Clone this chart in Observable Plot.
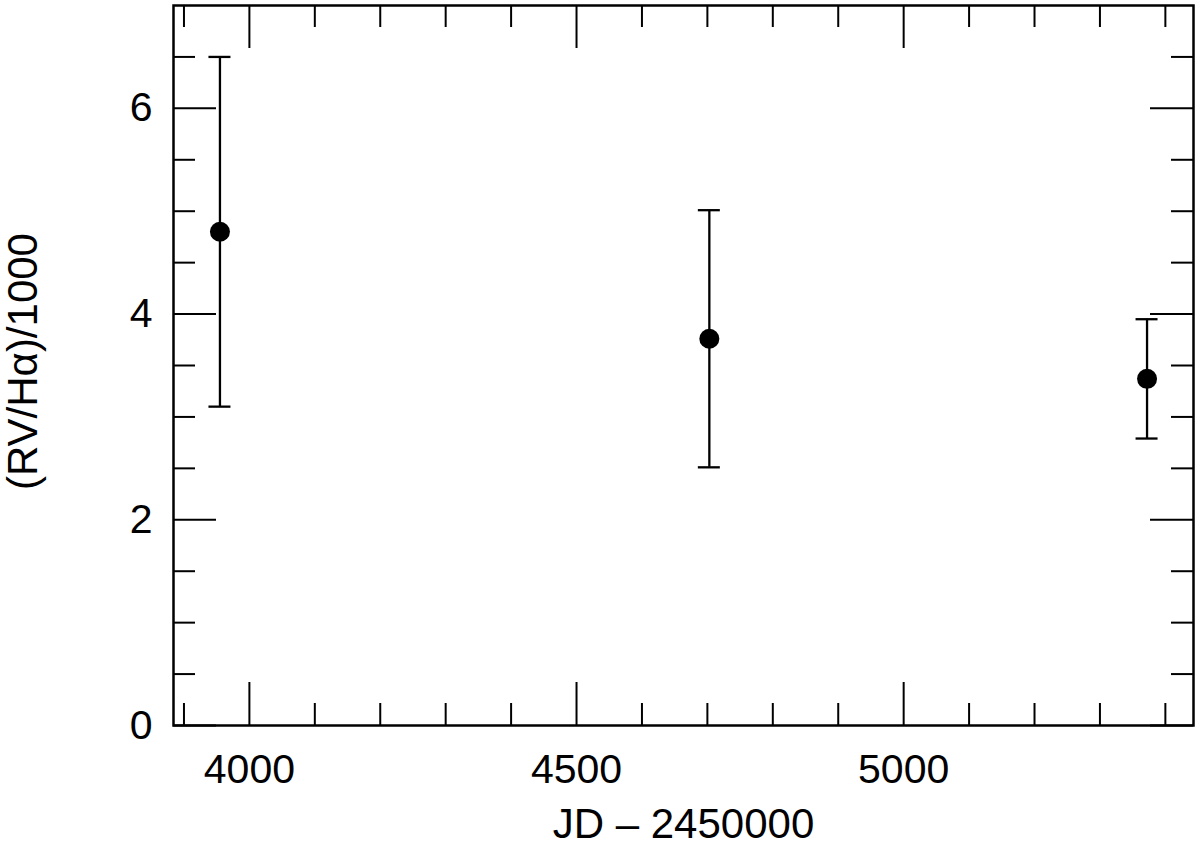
<!DOCTYPE html>
<html><head><meta charset="utf-8">
<script src="https://cdn.jsdelivr.net/npm/d3@7"></script>
<script src="https://cdn.jsdelivr.net/npm/@observablehq/plot@0.6"></script>
<style>body{margin:0;background:#fff} svg{display:block}</style>
</head><body><div id="chart"></div>
<script>
// Data
const jd = [3955, 4703, 5372];
const ratio = [4.80, 3.76, 3.37];
const errLow = [3.10, 2.51, 2.79];
const errHigh = [6.50, 5.01, 3.95];

// Axis ticks
const xMajor = [4000, 4500, 5000];
const xMinor = [3900, 4100, 4200, 4300, 4400, 4600, 4700, 4800, 4900, 5100, 5200, 5300, 5400];
const yMajor = [0, 2, 4, 6];
const yMinor = [0.5, 1, 1.5, 2.5, 3, 3.5, 4.5, 5, 5.5, 6.5];
const xTitle = ["JD \u2013 2450000"];
const yTitle = ["(RV/H\u03B1)/1000"];

const data = jd.map((x, i) => ({x, y: ratio[i], lo: errLow[i], hi: errHigh[i]}));

const W = 1200, H = 846;
const mL = 173, mR = 7, mT = 5, mB = 121;
const iw = W - mL - mR, ih = H - mT - mB;
const MAJ = 43, MIN = 22;
const tickStyle = {stroke: "black", strokeWidth: 2};

const chart = Plot.plot({
  width: W, height: H,
  marginLeft: mL, marginRight: mR, marginTop: mT, marginBottom: mB,
  style: {fontFamily: "'Liberation Sans', Arial, Helvetica, sans-serif", fontSize: "41px", color: "black", background: "white"},
  x: {domain: [3884, 5443]},
  y: {domain: [0, 7]},
  marks: [
    // inward ticks: bottom & top
    Plot.tickX(xMajor, {x: d => d, insetTop: ih - MAJ, ...tickStyle}),
    Plot.tickX(xMajor, {x: d => d, insetBottom: ih - MAJ, ...tickStyle}),
    Plot.tickX(xMinor, {x: d => d, insetTop: ih - MIN, ...tickStyle}),
    Plot.tickX(xMinor, {x: d => d, insetBottom: ih - MIN, ...tickStyle}),
    // inward ticks: left & right
    Plot.tickY(yMajor, {y: d => d, insetRight: iw - MAJ, ...tickStyle}),
    Plot.tickY(yMajor, {y: d => d, insetLeft: iw - MAJ, ...tickStyle}),
    Plot.tickY(yMinor, {y: d => d, insetRight: iw - MIN, ...tickStyle}),
    Plot.tickY(yMinor, {y: d => d, insetLeft: iw - MIN, ...tickStyle}),
    // tick labels
    Plot.axisX(xMajor, {tickSize: 0, tickPadding: 28, label: null, tickFormat: d => String(d)}),
    Plot.axisY(yMajor, {tickSize: 0, tickPadding: 21, label: null, tickFormat: d => String(d)}),
    // axis titles
    Plot.text(xTitle, {text: d => d, frameAnchor: "bottom", dy: 99, lineAnchor: "middle", textAnchor: "middle", fontSize: 42}),
    Plot.text(yTitle, {text: d => d, frameAnchor: "left", dx: -150, dy: -4, rotate: -90, lineAnchor: "middle", textAnchor: "middle", fontSize: 42}),
    // error bars
    Plot.ruleX(data, {x: "x", y1: "lo", y2: "hi", stroke: "black", strokeWidth: 2.3}),
    Plot.ruleY(data, {y: "lo", x1: "x", x2: "x", insetLeft: -11, insetRight: -11, stroke: "black", strokeWidth: 2.3}),
    Plot.ruleY(data, {y: "hi", x1: "x", x2: "x", insetLeft: -11, insetRight: -11, stroke: "black", strokeWidth: 2.3}),
    Plot.dot(data, {x: "x", y: "y", r: 10, fill: "black", stroke: "none"}),
    Plot.frame({stroke: "black", strokeWidth: 2.5})
  ]
});
document.getElementById("chart").appendChild(chart);
</script>
</body></html>
